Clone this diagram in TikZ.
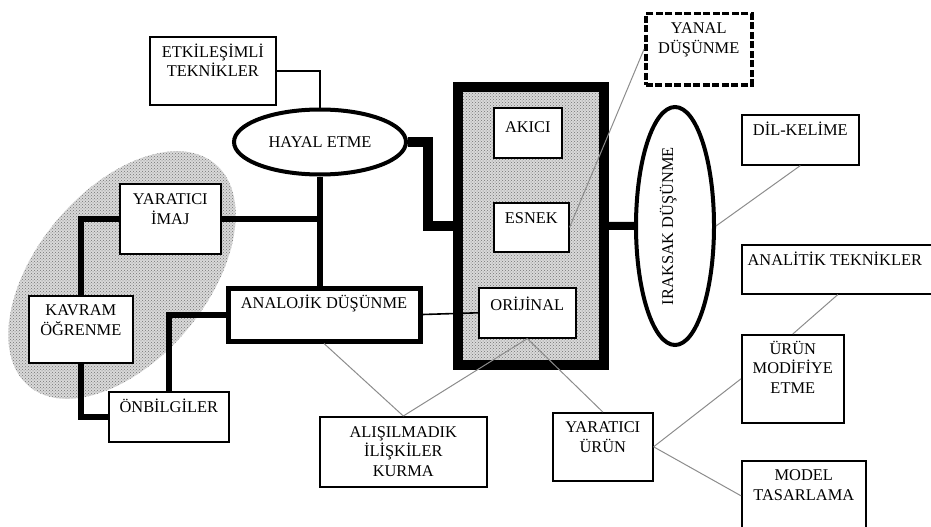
\documentclass[tikz,border=0pt]{standalone}
\usepackage{fontspec}
\setmainfont{Liberation Serif}
\usetikzlibrary{shapes.geometric,patterns}
\begin{document}
\begin{tikzpicture}[x=1pt,y=-1pt,
  box/.style={draw, line width=1.6pt, fill=white, inner sep=0pt, anchor=north west},
  lab/.style={anchor=base, align=center, inner sep=0pt, font=\fontsize{16.4}{19.5}\selectfont},
  shade/.style={preaction={fill=black!15}, preaction={pattern=crosshatch dots, pattern color=black!55}},
  heavy/.style={line width=6pt},
  heavier/.style={line width=10pt},
  conn/.style={line width=1.6pt},
  grayline/.style={draw=black!45, line width=1pt},
  oval/.style={ellipse, draw, line width=4pt, fill=white, inner sep=0pt}
  ]
\useasboundingbox (0,0) rectangle (931,527);
\clip (0,0) rectangle (931,527);

% shaded background shapes
\node[ellipse, shade, minimum width=290, minimum height=170, rotate=50, inner sep=0pt] (blob) at (122,275) {};
\node[draw, line width=10pt, shade, minimum width=145.5, minimum height=278.5, inner sep=0pt] (big) at (530.75,225.75) {};

% ellipses
\node[oval, minimum width=172, minimum height=65,
  label={[lab,name=hayal-t]center:HAYAL ETME}] (hayal) at (320,142) {};
\node[oval, minimum width=78, minimum height=238] (irak) at (675,226) {};
\node[lab, rotate=90] (irak-t) at (673,226) {IRAKSAK DÜŞÜNME};

% boxes (label base = baseline of the last line)
\node[box, minimum width=126, minimum height=68,
  label={[lab,name=etk-t,yshift=-40.5pt]north:ETKİLEŞİMLİ\\TEKNİKLER}] (etk) at (149,36) {};
\node[box, minimum width=101, minimum height=70,
  label={[lab,name=imaj-t,yshift=-41pt]north:YARATICI\\İMAJ}] (imaj) at (119,183) {};
\node[box, minimum width=104, minimum height=67,
  label={[lab,name=kavram-t,yshift=-40pt]north:KAVRAM\\ÖĞRENME}] (kavram) at (28,295) {};
\node[box, minimum width=120, minimum height=50,
  label={[lab,name=onb-t,yshift=-21pt]north:ÖNBİLGİLER}] (onb) at (108,391) {};
\node[box, line width=5pt, minimum width=192, minimum height=53,
  label={[lab,name=analojik-t,yshift=-22.5pt]north:ANALOJİK DÜŞÜNME}] (analojik) at (225.5,285.5) {};
\node[box, minimum width=68, minimum height=50,
  label={[lab,name=akici-t,yshift=-25pt]north:AKICI}] (akici) at (493,107) {};
\node[box, minimum width=75, minimum height=49,
  label={[lab,name=esnek-t,yshift=-21pt]north:ESNEK}] (esnek) at (493,202) {};
\node[box, minimum width=97, minimum height=50,
  label={[lab,name=orijinal-t,yshift=-23pt]north:ORİJİNAL}] (orijinal) at (478,287) {};
\node[box, line width=3.5pt, dash pattern=on 7pt off 2.5pt, minimum width=106, minimum height=71,
  label={[lab,name=yanal-t,yshift=-41pt]north:YANAL\\DÜŞÜNME}] (yanal) at (644,12) {};
\node[box, minimum width=117, minimum height=50,
  label={[lab,name=dil-t,yshift=-21pt]north:DİL-KELİME}] (dil) at (741,114) {};
\node[box, minimum width=192, minimum height=49,
  label={[lab,name=analitik-t,xshift=-3pt,yshift=-21pt]north:ANALİTİK TEKNİKLER}] (analitik) at (741,244) {};
\node[box, minimum width=102, minimum height=88,
  label={[lab,name=urunmod-t,yshift=-59pt]north:ÜRÜN\\MODİFİYE\\ETME}] (urunmod) at (741,334) {};
\node[box, minimum width=100, minimum height=68,
  label={[lab,name=yurun-t,yshift=-40pt]north:YARATICI\\ÜRÜN}] (yurun) at (552,412) {};
\node[box, minimum width=167, minimum height=70,
  label={[lab,name=alis-t,yshift=-60pt]north:ALIŞILMADIK\\İLİŞKİLER\\KURMA}] (alis) at (319,416) {};
\node[box, minimum width=124, minimum height=70,
  label={[lab,name=model-t,yshift=-40pt]north:MODEL\\TASARLAMA}] (model) at (741,460) {};

% heavy black connectors
\draw[conn] (etk.east) -| (hayal.north);
\draw[heavier] (hayal.east) -| ([xshift=-25pt]big.west) -- (big.west);
\draw[line width=8pt] (big.east) -- (irak.west);
\draw[heavy] (hayal.south) -- (hayal.south |- analojik.north);
\draw[heavy] (imaj.east) -- (imaj.east -| hayal.south);
\draw[heavy] (imaj.west) -| (kavram.north);
\draw[heavy] (kavram.south) |- (onb.west);
\draw[heavy] (onb.north) |- (analojik.west);
\draw[conn] (analojik.east) -- (orijinal.west);

% gray connectors
\draw[grayline] (yanal.west) -- (esnek.east);
\draw[grayline] (dil.south) -- (irak.east);
\draw[grayline] (analitik.south) -- (urunmod.north);
\draw[grayline] (yurun.east) -- (urunmod.west);
\draw[grayline] (yurun.east) -- (model.west);
\draw[grayline] (yurun.north) -- (orijinal.south);
\draw[grayline] (alis.north) -- (analojik.south);
\draw[grayline] (alis.north) -- (orijinal.south);
\end{tikzpicture}
\end{document}
